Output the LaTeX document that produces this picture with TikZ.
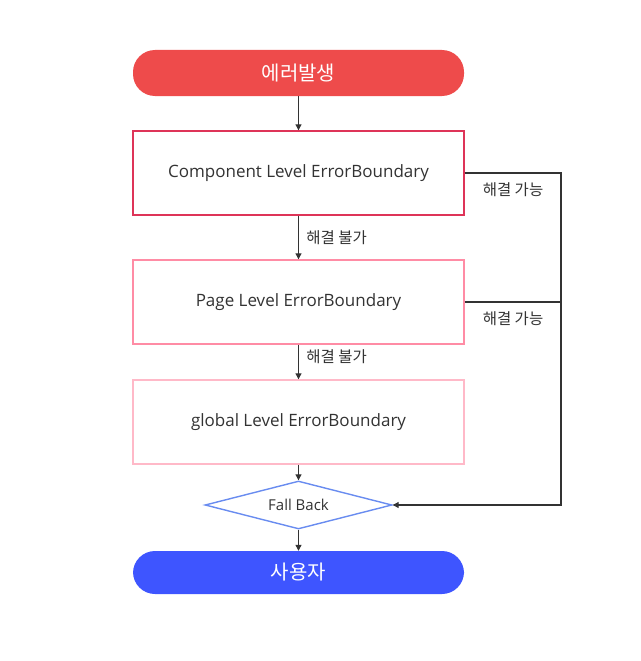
\documentclass[tikz,border=0pt]{standalone}
\usepackage{fontspec}
\usepackage{tikz}
\usetikzlibrary{arrows.meta,positioning,shapes.geometric}
\setmainfont{Open Sans}
\newfontfamily\krfont{Noto Sans CJK KR}
\definecolor{errRed}{RGB}{238,75,75}
\definecolor{lvlOne}{RGB}{222,52,88}
\definecolor{lvlTwo}{RGB}{255,140,165}
\definecolor{lvlThree}{RGB}{255,185,200}
\definecolor{fbBlue}{RGB}{105,140,240}
\definecolor{userBlue}{RGB}{62,85,255}
\definecolor{lineGray}{RGB}{51,51,51}

\tikzset{
  pill/.style={rounded corners=22pt, minimum width=331pt, minimum height=46pt,
    text=white, font=\krfont\fontsize{20}{23}\selectfont, inner sep=0pt},
  lvlbox/.style={draw, line width=1.4pt, fill=white, minimum width=331pt, minimum height=84pt,
    text=lineGray, font=\fontsize{17}{20}\selectfont, inner sep=0pt},
  flow/.style={lineGray, line width=1.1pt, -{Triangle[length=6pt,width=6pt]}},
  krlabel/.style={text=lineGray, font=\krfont\fontsize{15.5}{18}\selectfont}
}

\begin{document}
\begin{tikzpicture}[x=1pt,y=-1pt]
\useasboundingbox (0,0) rectangle (640,661);
\node[pill, fill=errRed] (err) at (298.5,73) {에러발생};
\node[lvlbox, draw=lvlOne] (comp) at (298.5,173) {Component Level ErrorBoundary};
\node[lvlbox, draw=lvlTwo] (page) at (298.5,302) {Page Level ErrorBoundary};
\node[lvlbox, draw=lvlThree] (glob) at (298.5,422) {global Level ErrorBoundary};
\node[diamond, draw=fbBlue, line width=1.4pt, fill=white, aspect=3.9, minimum width=187pt, minimum height=48pt,
  inner sep=0pt, text=lineGray, font=\fontsize{15}{18}\selectfont] (fb) at (298.5,505) {Fall Back};
\node[pill, fill=userBlue, minimum height=43pt] (user) at (298.5,572.5) {사용자};
\coordinate (side) at (561,173);

\draw[flow] (err) -- (comp);
\draw[flow] (comp) -- node[krlabel, right=4pt] {해결 불가} (page);
\draw[flow] (page) -- node[krlabel, right=4pt, pos=0.35] {해결 불가} (glob);
\draw[flow] (glob) -- (fb);
\draw[flow] (fb) -- (user);
\draw[flow] (comp.east) -- (side) |- (fb.east);
\draw[lineGray, line width=1.1pt] (page.east) -- (page.east -| side);
\node[krlabel] (ok1) at (513,190) {해결 가능};
\node[krlabel] (ok2) at (513,319) {해결 가능};
\end{tikzpicture}
\end{document}
